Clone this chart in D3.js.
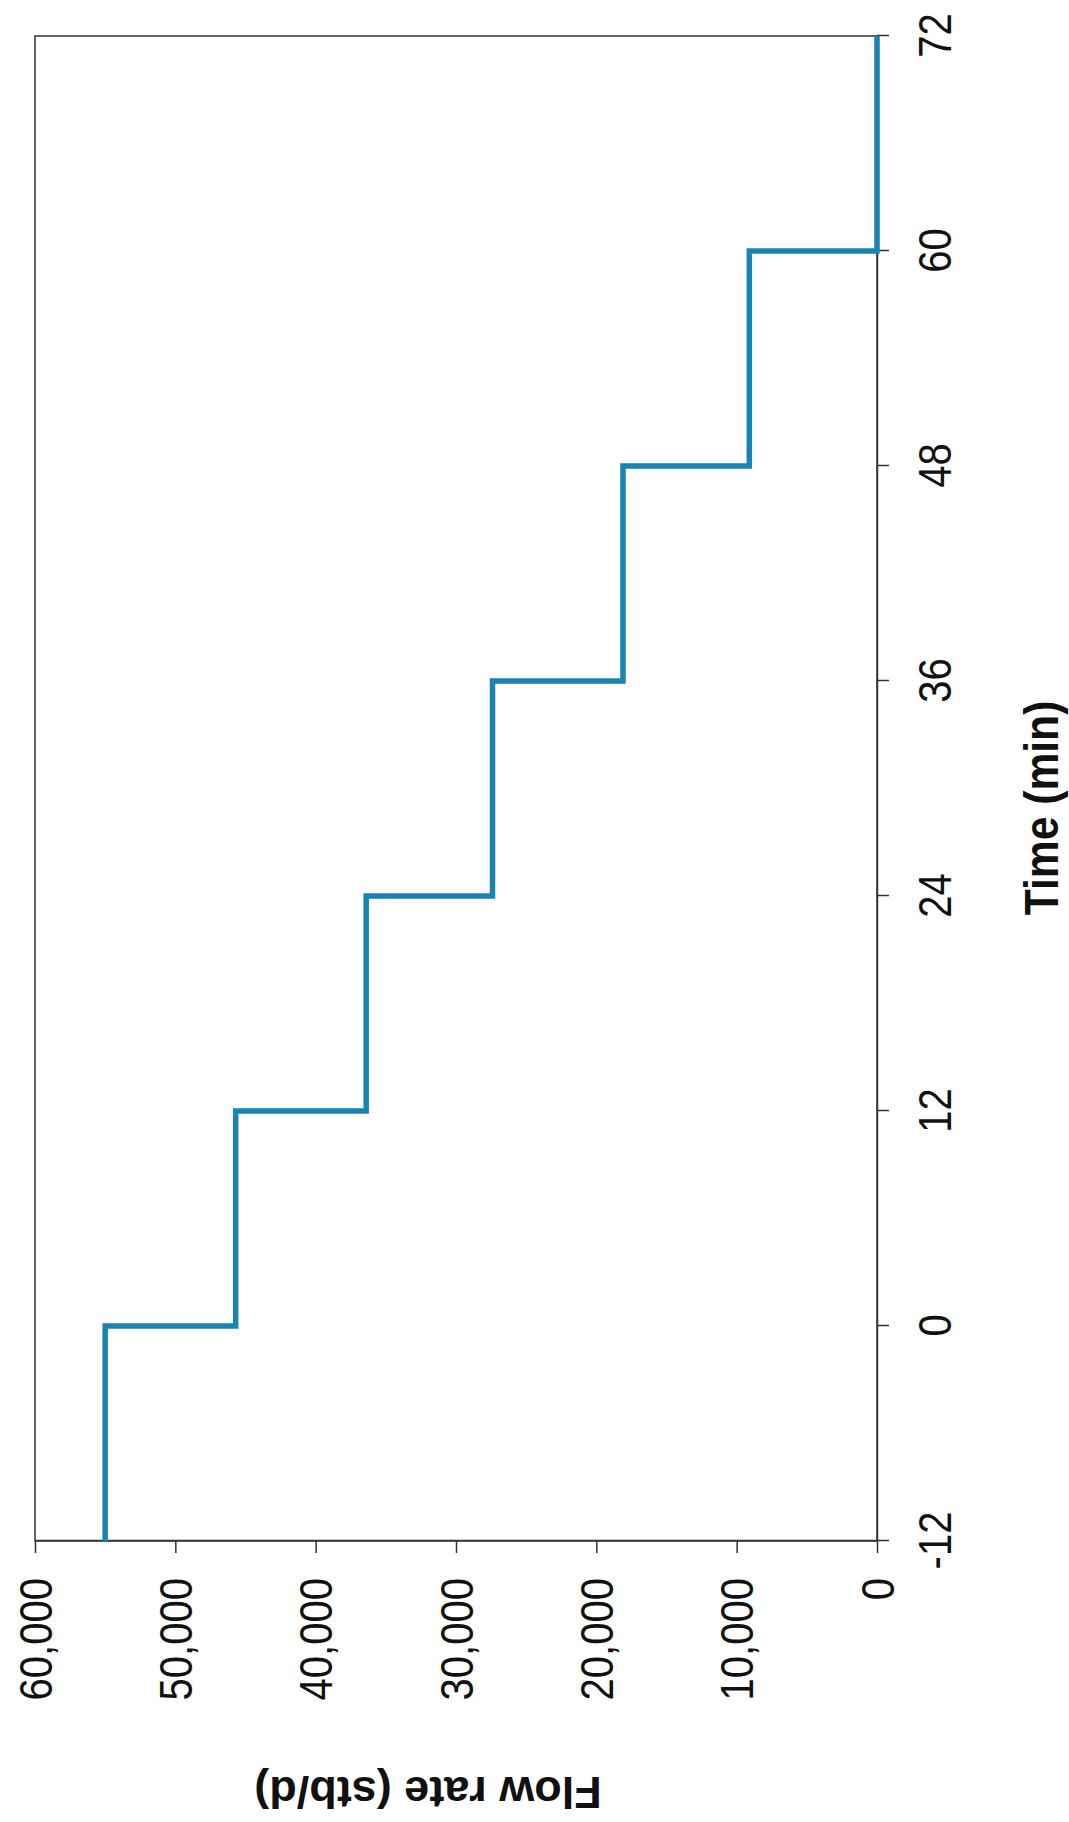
<!DOCTYPE html>
<html>
<head>
<meta charset="utf-8">
<script src="https://cdn.jsdelivr.net/npm/d3@7"></script>
<style>
  body { margin: 0; background: #fff; }
  svg { display: block; }
  text { font-family: "Liberation Sans", Arial, sans-serif; fill: #111; }
</style>
</head>
<body>
<svg width="1069" height="1822"></svg>
<script>
// step rate test: each rate holds from its start time until the next one
const stepStart = [-12, 0, 12, 24, 36, 48, 60];
const flowRate = [55000, 45700, 36400, 27400, 18100, 9100, 0];
const tEnd = 72;
const timeTicks = [-12, 0, 12, 24, 36, 48, 60, 72];
const rateTicks = [0, 10000, 20000, 30000, 40000, 50000, 60000];

const W = 1505, H = 842;   // chart drawn upright, then turned on the page
const sx = 0.87;           // scanned text is squeezed along the time direction

const svg = d3.select("svg");
svg.append("rect").attr("width", 1069).attr("height", 1822).attr("fill", "#fff");

const g = svg.append("g")
  .attr("transform", "translate(35,1541) rotate(-90)");

const x = d3.scaleLinear().domain([-12, 72]).range([0, W]);
const y = d3.scaleLinear().domain([0, 60000]).range([H, 0]);

// frame
g.append("rect")
  .attr("width", W).attr("height", H)
  .attr("fill", "none").attr("stroke", "#333").attr("stroke-width", 1.5);

const xAxis = g.append("g")
  .attr("transform", `translate(0,${H})`)
  .call(d3.axisBottom(x).tickValues(timeTicks).tickSize(12).tickSizeOuter(0)
    .tickFormat(d => String(d)));

const yAxis = g.append("g")
  .call(d3.axisLeft(y).tickValues(rateTicks).tickSize(12).tickSizeOuter(0)
    .tickFormat(d3.format(",")));

[xAxis, yAxis].forEach(a => {
  a.select(".domain").attr("stroke", "#333").attr("stroke-width", 1.5);
  a.selectAll(".tick line").attr("stroke", "#333").attr("stroke-width", 1.5);
  a.selectAll("text").attr("fill", "#111").style("font-size", "46px");
});

xAxis.selectAll("text")
  .attr("dy", null)
  .attr("y", 74)
  .attr("transform", `scale(${sx},1)`);

yAxis.selectAll("text")
  .attr("x", -37 / sx)
  .attr("dy", "0.35em")
  .attr("transform", `scale(${sx},1)`);

// step line
const pts = stepStart.map((t, i) => [t, flowRate[i]]);
pts.push([tEnd, flowRate[flowRate.length - 1]]);

g.append("path")
  .datum(pts)
  .attr("fill", "none")
  .attr("stroke", "#1784b3")
  .attr("stroke-width", 5.5)
  .attr("d", d3.line()
    .x(d => x(d[0]))
    .y(d => y(d[1]))
    .curve(d3.curveStepAfter));

// axis titles
g.append("text")
  .attr("transform", `translate(733,1023) scale(${sx},1)`)
  .attr("text-anchor", "middle")
  .style("font-size", "49px")
  .style("font-weight", "bold")
  .text("Time (min)");

g.append("text")
  .attr("transform", "translate(-236,393) rotate(-90)")
  .attr("text-anchor", "middle")
  .style("font-size", "45px")
  .style("font-weight", "bold")
  .text("Flow rate (stb/d)");
</script>
</body>
</html>
